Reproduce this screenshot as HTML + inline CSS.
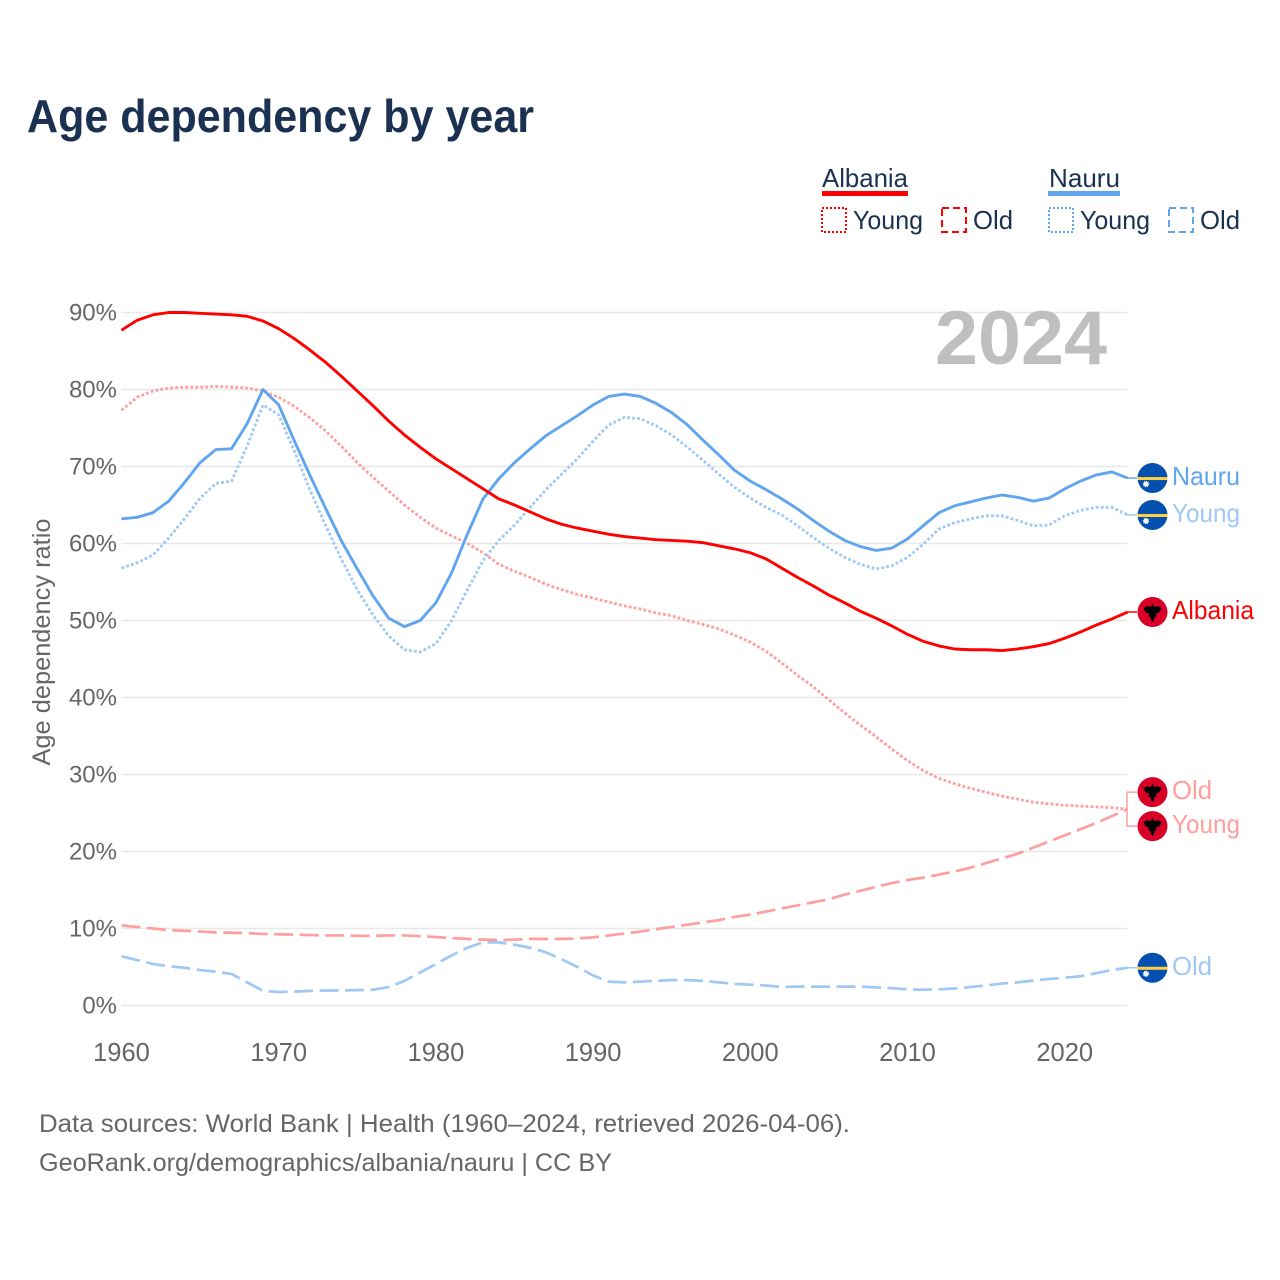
<!DOCTYPE html>
<html lang="en">
<head>
<meta charset="utf-8">
<title>Age dependency by year</title>
<style>
html,body{margin:0;padding:0;background:#fff;}
svg{display:block;font-family:"Liberation Sans",sans-serif;}
</style>
</head>
<body>
<svg id="chart" xmlns="http://www.w3.org/2000/svg" width="1280" height="1280" viewBox="0 0 1280 1280">
  <rect width="1280" height="1280" fill="#ffffff"/>
  <text x="27" y="132" font-size="46" font-weight="700" fill="#1a3151" textLength="507" lengthAdjust="spacingAndGlyphs">Age dependency by year</text>

  <g font-size="26" fill="#1a3151">
    <text x="822" y="187" textLength="86" lengthAdjust="spacingAndGlyphs">Albania</text>
    <rect x="822" y="191" width="86" height="5" fill="#ff0000"/>
    <rect x="822" y="208" width="24" height="24" fill="none" stroke="#ff0000" stroke-width="2" stroke-dasharray="2 2"/>
    <text x="853" y="229" textLength="70" lengthAdjust="spacingAndGlyphs">Young</text>
    <rect x="942" y="208" width="24" height="24" fill="none" stroke="#ff0000" stroke-width="2" stroke-dasharray="7 4"/>
    <text x="973" y="229" textLength="40" lengthAdjust="spacingAndGlyphs">Old</text>
    <text x="1049" y="187" textLength="71" lengthAdjust="spacingAndGlyphs">Nauru</text>
    <rect x="1048" y="191" width="72" height="5" fill="#60a5ee"/>
    <rect x="1049" y="208" width="24" height="24" fill="none" stroke="#60a5ee" stroke-width="2" stroke-dasharray="2 2"/>
    <text x="1080" y="229" textLength="70" lengthAdjust="spacingAndGlyphs">Young</text>
    <rect x="1169" y="208" width="24" height="24" fill="none" stroke="#60a5ee" stroke-width="2" stroke-dasharray="7 4"/>
    <text x="1200" y="229" textLength="40" lengthAdjust="spacingAndGlyphs">Old</text>
  </g>

  <g id="grid"></g>
  <text x="935" y="364" font-size="76" font-weight="700" fill="#bfbfbf" textLength="172" lengthAdjust="spacingAndGlyphs">2024</text>
  <g id="yticks" font-size="24" fill="#666666" text-anchor="end"></g>
  <g id="xticks" font-size="25.5" fill="#666666" text-anchor="middle"></g>
  <text transform="translate(50,642) rotate(-90)" font-size="25" fill="#666666" text-anchor="middle" textLength="247" lengthAdjust="spacingAndGlyphs">Age dependency ratio</text>

  <g id="series"></g>
  <g id="endlabels" font-size="26"></g>

  <g font-size="25" fill="#666666">
    <text x="39" y="1132" textLength="811" lengthAdjust="spacingAndGlyphs">Data sources: World Bank | Health (1960–2024, retrieved 2026-04-06).</text>
    <text x="39" y="1171" textLength="573" lengthAdjust="spacingAndGlyphs">GeoRank.org/demographics/albania/nauru | CC BY</text>
  </g>
</svg>

<script>
const startYear = 1960;
const xTickLabels = [1960, 1970, 1980, 1990, 2000, 2010, 2020];
const yTickLabels = [0, 10, 20, 30, 40, 50, 60, 70, 80, 90];

const albaniaTotal = [87.7,89.0,89.7,90.0,90.0,89.9,89.8,89.7,89.5,88.9,87.9,86.6,85.1,83.5,81.7,79.8,77.9,75.9,74.1,72.5,71.0,69.7,68.4,67.1,65.8,65.0,64.1,63.2,62.5,62.0,61.6,61.2,60.9,60.7,60.5,60.4,60.3,60.1,59.7,59.3,58.8,58.0,56.8,55.6,54.5,53.3,52.3,51.2,50.3,49.3,48.2,47.3,46.7,46.3,46.2,46.2,46.1,46.3,46.6,47.0,47.7,48.5,49.4,50.2,51.1];
const albaniaYoung = [77.3,79.0,79.8,80.2,80.3,80.3,80.4,80.3,80.2,79.8,79.0,77.8,76.3,74.6,72.6,70.5,68.6,66.8,65.0,63.4,62.0,61.0,60.0,58.8,57.3,56.4,55.6,54.7,54.0,53.4,52.9,52.4,51.9,51.5,51.0,50.6,50.0,49.5,48.9,48.1,47.2,46.0,44.5,42.9,41.4,39.7,38.0,36.4,34.9,33.3,31.8,30.5,29.5,28.8,28.2,27.7,27.2,26.8,26.4,26.2,26.0,25.9,25.8,25.7,25.5];
const albaniaOld = [10.4,10.2,10.0,9.8,9.7,9.6,9.5,9.45,9.4,9.3,9.25,9.2,9.15,9.1,9.1,9.05,9.05,9.1,9.1,9.0,8.9,8.75,8.65,8.55,8.5,8.55,8.65,8.65,8.65,8.7,8.85,9.1,9.35,9.6,9.9,10.2,10.5,10.8,11.1,11.5,11.8,12.2,12.6,13.0,13.4,13.8,14.4,14.9,15.4,15.9,16.3,16.6,17.0,17.4,17.9,18.5,19.1,19.7,20.5,21.3,22.1,22.9,23.7,24.6,25.5];
const nauruTotal = [63.2,63.4,64.0,65.5,67.9,70.5,72.2,72.3,75.6,80.0,78.0,73.3,68.8,64.5,60.3,56.7,53.2,50.3,49.2,50.0,52.3,56.2,61.2,65.8,68.4,70.5,72.3,74.0,75.3,76.6,78.0,79.1,79.4,79.1,78.2,77.0,75.4,73.4,71.5,69.5,68.1,67.0,65.8,64.5,63.0,61.6,60.4,59.6,59.1,59.4,60.6,62.3,64.0,64.9,65.4,65.9,66.3,66.0,65.5,65.9,67.1,68.1,68.9,69.3,68.5];
const nauruYoung = [56.8,57.5,58.5,60.7,63.2,65.9,67.8,68.1,72.7,78.0,76.7,72.0,66.9,62.3,57.9,54.0,50.7,48.0,46.2,45.9,47.0,50.0,54.0,57.8,60.4,62.4,64.7,67.0,69.0,71.0,73.3,75.4,76.4,76.2,75.3,74.1,72.5,70.8,69.0,67.3,65.9,64.7,63.7,62.3,60.8,59.4,58.2,57.3,56.7,57.1,58.2,59.9,61.9,62.7,63.2,63.6,63.6,63.0,62.3,62.4,63.6,64.3,64.7,64.7,63.7];
const nauruOld = [6.4,5.9,5.4,5.1,4.9,4.6,4.4,4.1,3.0,1.9,1.75,1.8,1.9,1.95,1.95,2.0,2.05,2.4,3.2,4.3,5.4,6.5,7.5,8.2,8.2,7.9,7.5,6.9,6.0,5.0,3.9,3.1,3.0,3.1,3.2,3.3,3.3,3.2,3.0,2.8,2.7,2.6,2.4,2.45,2.45,2.45,2.45,2.45,2.35,2.25,2.1,2.05,2.1,2.2,2.4,2.6,2.85,3.0,3.25,3.45,3.6,3.8,4.2,4.6,4.9];

const NS = 'http://www.w3.org/2000/svg';
const plotLeft = 121.5, plotRight = 1127, yearStep = 15.72;
const zeroY = 1005.5, pxPerPercent = 7.7;
const labelGap = 34;

function xScale(year) { return plotLeft + (year - startYear) * yearStep; }
function yScale(value) { return zeroY - value * pxPerPercent; }
function make(tag, parentId) {
  const node = document.createElementNS(NS, tag);
  (typeof parentId === 'string' ? document.getElementById(parentId) : parentId).appendChild(node);
  return node;
}
function linePath(values) {
  return values.map(function (v, i) {
    return (i ? 'L' : 'M') + xScale(startYear + i).toFixed(2) + ' ' + yScale(v).toFixed(2);
  }).join(' ');
}

yTickLabels.forEach(function (tick) {
  const line = make('line', 'grid');
  
  
  line.setAttribute('x1', plotLeft);
  line.setAttribute('x2', plotRight);
  line.setAttribute('y1', yScale(tick));
  line.setAttribute('y2', yScale(tick));
  line.setAttribute('stroke', '#e8e8e8');
  line.setAttribute('stroke-width', '1.5');
  const label = make('text', 'yticks');
  
  
  label.setAttribute('x', 117);
  label.setAttribute('y', yScale(tick) + 8);
  label.textContent = tick + '%';
});

xTickLabels.forEach(function (tick) {
  const label = make('text', 'xticks');
  
  
  label.setAttribute('x', xScale(tick));
  label.setAttribute('y', 1061);
  label.textContent = tick;
});

const seriesList = [
  { id: 'albania-old', values: albaniaOld, color: '#ff9e9e', width: 2.7, dash: '19 6.5', label: 'Old', flag: 'albania', textWidth: 40 },
  { id: 'albania-young', values: albaniaYoung, color: '#ff9e9e', width: 2.8, dash: '2.8 2.2', label: 'Young', flag: 'albania', textWidth: 68 },
  { id: 'nauru-old', values: nauruOld, color: '#a0c8f5', width: 2.7, dash: '19 6.5', label: 'Old', flag: 'nauru', textWidth: 40 },
  { id: 'nauru-young', values: nauruYoung, color: '#a0c8f5', width: 2.8, dash: '2.8 2.2', label: 'Young', flag: 'nauru', textWidth: 68 },
  { id: 'nauru-total', values: nauruTotal, color: '#60a5ee', width: 2.9, dash: null, label: 'Nauru', flag: 'nauru', textWidth: 68 },
  { id: 'albania-total', values: albaniaTotal, color: '#ff0000', width: 2.9, dash: null, label: 'Albania', flag: 'albania', textWidth: 82 }
];

seriesList.forEach(function (s) {
  const path = make('path', 'series');
  
  
  path.setAttribute('d', linePath(s.values));
  path.setAttribute('fill', 'none');
  path.setAttribute('stroke', s.color);
  path.setAttribute('stroke-width', s.width);
  path.setAttribute('stroke-linejoin', 'round');
  if (s.dash) { path.setAttribute('stroke-dasharray', s.dash); }
});

/* end-label layout: spread labels whose series finish too close together */
const placed = seriesList.map(function (s) {
  const lineY = yScale(s.values[s.values.length - 1]);
  return { s: s, lineY: lineY, labelY: lineY };
}).sort(function (a, b) { return a.lineY - b.lineY; });
for (let i = 1; i < placed.length; i++) {
  const overlap = labelGap - (placed[i].labelY - placed[i - 1].labelY);
  if (overlap > 0) {
    placed[i - 1].labelY -= overlap / 2;
    placed[i].labelY += overlap / 2;
  }
}

function drawFlag(kind, cx, cy, parent) {
  const g = make('g', parent);
  
  
  g.setAttribute('transform', 'translate(' + cx + ',' + cy + ')');
  const disc = make('circle', g);
  
  
  disc.setAttribute('r', 15);
  if (kind === 'nauru') {
    disc.setAttribute('fill', '#0450b0');
    const band = make('rect', g);
    
    
    band.setAttribute('x', -15);
    band.setAttribute('y', -1);
    band.setAttribute('width', 30);
    band.setAttribute('height', 3);
    band.setAttribute('fill', '#ffcf3e');
    const star = make('circle', g);
    
    
    star.setAttribute('cx', -6.5);
    star.setAttribute('cy', 6);
    star.setAttribute('r', 2.6);
    star.setAttribute('fill', '#f0f0f0');
    star.setAttribute('stroke', '#f0f0f0');
    star.setAttribute('stroke-width', '1.2');
    star.setAttribute('stroke-dasharray', '1 1');
  } else {
    disc.setAttribute('fill', '#d80027');
    const eagle = make('path', g);
    
    
    eagle.setAttribute('d', 'M-9 -4 L-5 -6 L-2 -5 L0 -8 L2 -5 L5 -6 L9 -4 L7 0 L3 2 L4.5 4 L2 5 L1.5 8 L0 10 L-1.5 8 L-2 5 L-4.5 4 L-3 2 L-7 0 Z');
    eagle.setAttribute('fill', '#000000');
  }
}

const connectorX0 = 1127, connectorX1 = 1137, flagX = 1152.5, labelX = 1172;
placed.forEach(function (p) {
  const g = make('g', 'endlabels');
  
  
  const conn = make('path', g);
  
  
  conn.setAttribute('d', 'M' + connectorX0 + ' ' + p.lineY.toFixed(2) + ' V' + p.labelY.toFixed(2) + ' H' + connectorX1);
  conn.setAttribute('fill', 'none');
  conn.setAttribute('stroke', p.s.color);
  conn.setAttribute('stroke-width', '1.5');
  drawFlag(p.s.flag, flagX, p.labelY, g);
  const t = make('text', g);
  
  
  t.setAttribute('x', labelX);
  t.setAttribute('y', p.labelY + 7);
  t.setAttribute('fill', p.s.color);
  t.setAttribute('textLength', p.s.textWidth);
  t.setAttribute('lengthAdjust', 'spacingAndGlyphs');
  t.textContent = p.s.label;
});
</script>
</body>
</html>
